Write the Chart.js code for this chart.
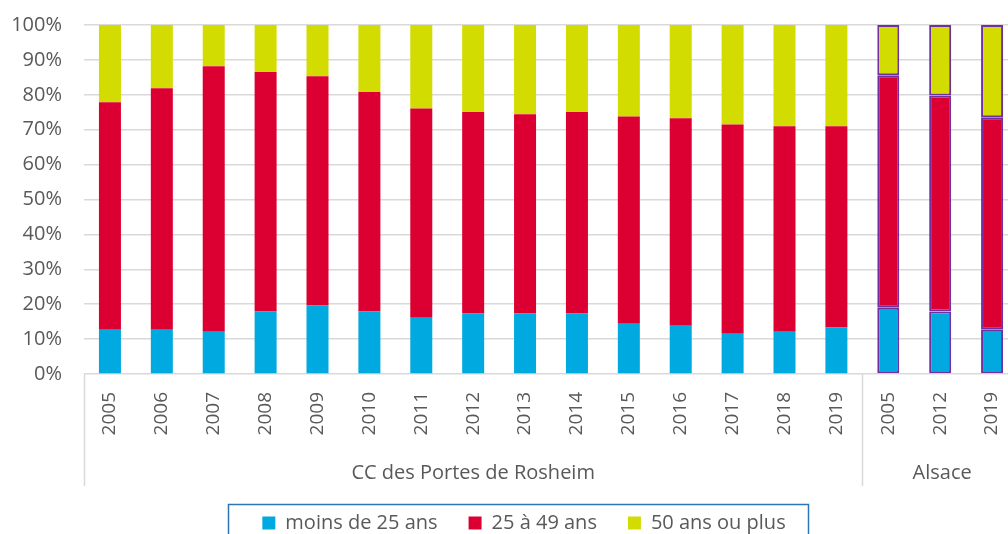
<!DOCTYPE html>
<html>
<head>
<meta charset="utf-8">
<script src="https://cdn.jsdelivr.net/npm/chart.js@4/dist/chart.umd.min.js"></script>
<style>
  html, body { margin: 0; padding: 0; background: #fff; overflow: hidden; }
  #wrap { position: relative; width: 1008px; height: 534px; overflow: hidden; }
  #c { position: absolute; left: 0; top: -9px; }
</style>
</head>
<body>
<div id="wrap"><canvas id="c" width="1079" height="552"></canvas></div>
<script>
// ---- Data ----
const years = ['2005','2006','2007','2008','2009','2010','2011','2012','2013','2014','2015','2016','2017','2018','2019','2005','2012','2019'];
const groupNames = ['CC des Portes de Rosheim', 'Alsace'];
const groupSizes = [15, 3];
const seriesNames = ['moins de 25 ans', '25 à 49 ans', '50 ans ou plus'];
const moins25 = [12.7,12.7,12.1,17.9,19.6,17.9,16.1,17.3,17.3,17.3,14.4,13.8,11.5,12.1,13.3,19.0,17.9,12.7];
const de25a49 = [65.2,69.2,76.1,68.6,65.7,62.9,60.0,57.8,57.1,57.8,59.4,59.5,60.0,58.9,57.7,66.6,61.9,60.9];
const plus50  = [22.1,18.1,11.8,13.5,14.7,19.2,23.9,24.9,25.6,24.9,26.2,26.7,28.5,29.0,29.0,14.4,20.2,26.4];
const yTicks = [0,10,20,30,40,50,60,70,80,90,100];

// ---- Styles ----
const colors = ['#00A9E0', '#DC0032', '#D2DC00'];
const textColor = '#595959';
const gridColor = '#D9D9D9';
const highlightBorder = '#7030A0';
const FONT = "'Open Sans', 'Noto Sans', sans-serif";
const LEGEND_SHIFT = 15;

function borderColors(base) {
  return years.map((_, i) => i >= groupSizes[0] ? highlightBorder : base);
}
function borderWidths() {
  return years.map((_, i) => i >= groupSizes[0] ? 2 : 0);
}

const datasets = [moins25, de25a49, plus50].map((arr, k) => ({
  label: seriesNames[k],
  data: arr,
  backgroundColor: colors[k],
  borderColor: borderColors(colors[k]),
  borderWidth: borderWidths(),
  borderSkipped: false,
  categoryPercentage: 1,
  barPercentage: 0.424
}));

const groupPlugin = {
  id: 'groups',
  beforeDraw(chart) {
    const lg = chart.legend;
    if (lg && !lg._shifted) {
      lg.left += LEGEND_SHIFT;
      lg.right += LEGEND_SHIFT;
      lg._shifted = true;
    }
  },
  afterDraw(chart) {
    const ctx = chart.ctx;
    const area = chart.chartArea;
    const x = chart.scales.x;
    const n = years.length;
    const w = (area.right - area.left) / n;
    ctx.save();
    ctx.strokeStyle = gridColor;
    ctx.lineWidth = 1.5;
    let start = 0;
    const bounds = [0];
    groupSizes.forEach(s => { start += s; bounds.push(start); });
    bounds.forEach(b => {
      const px = Math.round(area.left + b * w) + 0.5;
      ctx.beginPath();
      ctx.moveTo(px, area.bottom);
      ctx.lineTo(px, area.bottom + 112);
      ctx.stroke();
    });
    ctx.fillStyle = textColor;
    ctx.font = "20px " + FONT;
    ctx.textAlign = 'center';
    ctx.textBaseline = 'middle';
    let s0 = 0;
    groupNames.forEach((name, gi) => {
      const l = area.left + s0 * w;
      const r = area.left + (s0 + groupSizes[gi]) * w;
      let cx = (l + r) / 2;
      if (gi === groupNames.length - 1) {
        cx = (l + x.getPixelForValue(n - 1) + w / 2) / 2 + 2;
      }
      ctx.fillText(name, cx, area.bottom + 99);
      s0 += groupSizes[gi];
    });
    // legend frame, measured from the legend's own text widths
    const lg = chart.legend;
    if (lg && lg.legendItems && lg.legendItems.length) {
      ctx.font = "20px " + FONT;
      const opts = lg.options.labels;
      let total = 0;
      lg.legendItems.forEach((it, i) => {
        total += opts.boxWidth + 10 + ctx.measureText(it.text).width;
        if (i > 0) total += opts.padding;
      });
      const cx = (lg.left + lg.right) / 2;
      const l = cx - total / 2 - 34, r = cx + total / 2 + 23;
      const t = lg.top + opts.padding - 13 + 4;
      ctx.strokeStyle = '#2E75B6';
      ctx.lineWidth = 1.5;
      ctx.strokeRect(Math.round(l) + 0.5, Math.round(t) + 0.5, Math.round(r - l), 80);
    }
    ctx.restore();
  }
};

new Chart(document.getElementById('c'), {
  type: 'bar',
  data: { labels: years, datasets },
  plugins: [groupPlugin],
  options: {
    responsive: false,
    animation: false,
    devicePixelRatio: 1,
    layout: { padding: { top: 15, right: 61, left: 0, bottom: 0 } },
    plugins: {
      tooltip: { enabled: false },
      legend: {
        position: 'bottom',
        labels: {
          boxWidth: 13,
          boxHeight: 13,
          padding: 31,
          color: textColor,
          font: { family: FONT, size: 20 }
        }
      }
    },
    scales: {
      x: {
        stacked: true,
        grid: { display: false, drawTicks: false },
        border: { display: false },
        ticks: {
          autoSkip: false,
          minRotation: 90,
          maxRotation: 90,
          padding: 18,
          color: textColor,
          font: { family: FONT, size: 19 }
        },
        afterFit(scale) { scale.height = 108; }
      },
      y: {
        stacked: true,
        min: 0,
        max: 100,
        afterBuildTicks(scale) { scale.ticks = yTicks.map(v => ({ value: v })); },
        grid: { color: gridColor, lineWidth: 1.5, drawTicks: false },
        border: { display: false },
        ticks: {
          padding: 22,
          color: textColor,
          font: { family: FONT, size: 20 },
          callback: v => v + '%'
        },
        afterFit(scale) { scale.width = 84; }
      }
    }
  }
});
</script>
</body>
</html>
